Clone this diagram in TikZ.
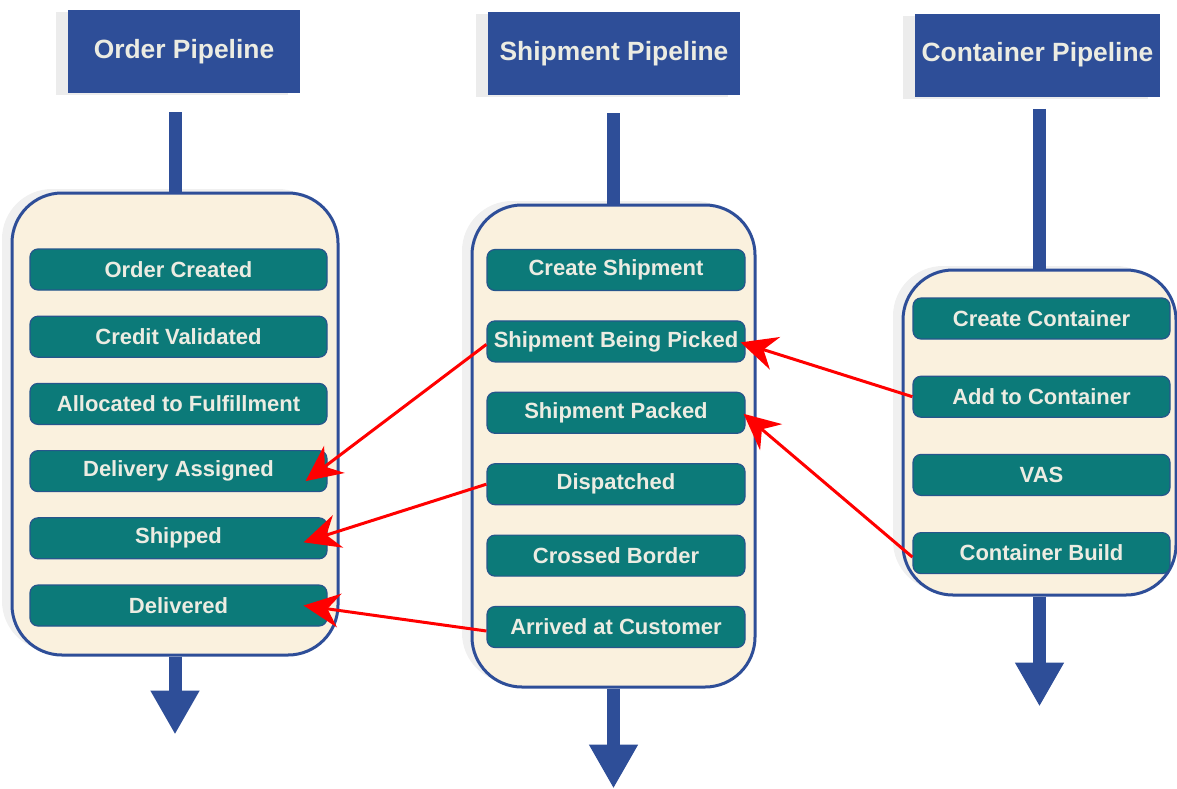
\documentclass[tikz,border=0pt]{standalone}
\usepackage{fontspec}
\setmainfont{Liberation Sans}
\usetikzlibrary{positioning,arrows.meta,shadows}

\definecolor{pipeblue}{RGB}{46,78,152}
\definecolor{stageteal}{RGB}{12,122,121}
\definecolor{stageedge}{RGB}{38,86,140}
\definecolor{parchment}{RGB}{250,241,222}
\definecolor{labelgray}{RGB}{236,236,226}

\tikzset{
  pipetitle/.style={fill=pipeblue, text=labelgray, inner sep=0pt, minimum height=41.5pt,
    font=\bfseries\fontsize{13.2}{15}\selectfont,
    drop shadow={shadow xshift=-6pt, shadow yshift=-1pt, opacity=0.15}},
  lane/.style={draw=pipeblue, line width=1.5pt, fill=parchment, rounded corners=25pt, inner sep=0pt,
    drop shadow={shadow xshift=-5pt, shadow yshift=2pt, opacity=0.12}},
  stage/.style={draw=stageedge, line width=0.6pt, fill=stageteal, text=labelgray,
    rounded corners=4pt, inner sep=0pt, minimum height=20.5pt,
    font=\bfseries\fontsize{11}{13}\selectfont},
  ostage/.style={stage, minimum width=148.5pt},
  sstage/.style={stage, minimum width=129pt},
  cstage/.style={stage, minimum width=128.5pt},
  stem/.style={draw=pipeblue, line width=6.5pt},
  flow/.style={stem, -{Triangle[width=23pt,length=22pt]}},
  handoff/.style={draw=red, line width=1.5pt, -{Stealth[length=18pt,width=17pt,inset=6pt]}}
}

\begin{document}
\begin{tikzpicture}[x=0.5pt, y=-0.5pt]
    \useasboundingbox (0,0) rectangle (1177,788);

    % pipeline headers
    \node[pipetitle, minimum width=116pt] (otitle) at (184,51.5) {Order Pipeline};
    \node[pipetitle, minimum width=126pt] (stitle) at (614,53.5) {Shipment Pipeline};
    \node[pipetitle, minimum width=122.5pt] (ctitle) at (1037.5,55) {Container Pipeline};

    % lanes
    \node[lane, minimum width=163pt, minimum height=231pt] (olane) at (175,424) {};
    \node[lane, minimum width=141.5pt, minimum height=241pt] (slane) at (613.5,446) {};
    \node[lane, minimum width=136.5pt, minimum height=162.5pt] (clane) at (1039.5,432.5) {};

    % order stages
    \node[ostage] (oc) at (178.5,269.5) {Order Created};
    \node[ostage, below=12.5pt of oc] (ov) {Credit Validated};
    \node[ostage, below=12.5pt of ov] (oa) {Allocated to Fulfillment};
    \node[ostage, below=12.5pt of oa] (od) {Delivery Assigned};
    \node[ostage, below=12.5pt of od] (os) {Shipped};
    \node[ostage, below=12.5pt of os] (odl) {Delivered};

    % shipment stages
    \node[sstage] (sc) at (616,270) {Create Shipment};
    \node[sstage, below=14.6pt of sc] (sp) {Shipment Being Picked};
    \node[sstage, below=14.6pt of sp] (sk) {Shipment Packed};
    \node[sstage, below=14.6pt of sk] (sd) {Dispatched};
    \node[sstage, below=14.6pt of sd] (sb) {Crossed Border};
    \node[sstage, below=14.6pt of sb] (sa) {Arrived at Customer};

    % container stages
    \node[cstage] (cc) at (1041.5,318.5) {Create Container};
    \node[cstage, below=18pt of cc] (ca) {Add to Container};
    \node[cstage, below=18pt of ca] (cv) {VAS};
    \node[cstage, below=18pt of cv] (cb) {Container Build};

    % stems and outflow
    \coordinate[below=39pt of olane.south] (oend);
    \coordinate[below=50pt of slane.south] (send);
    \coordinate[below=55pt of clane.south] (cend);

    \draw[stem, shorten <=9.5pt] (otitle.south -| olane.north) -- (olane.north);
    \draw[stem, shorten <=9pt] (stitle.south -| slane.north) -- (slane.north);
    \draw[stem, shorten <=6pt] (ctitle.south -| clane.north) -- (clane.north);

    \draw[flow] (olane.south) -- (oend);
    \draw[flow] (slane.south) -- (send);
    \draw[flow] (clane.south) -- (cend);

    % hand-offs between pipelines
    \draw[handoff] ([shift={(0,3)}]sp.west) -- ([shift={(-22,10)}]od.east);
    \draw[handoff] (sd.west) -- ([shift={(-24,4)}]os.east);
    \draw[handoff] ([shift={(0,4)}]sa.west) -- ([shift={(-24,0)}]odl.east);
    \draw[handoff] (ca.west) -- ([shift={(-5,1)}]sp.east);
    \draw[handoff] ([shift={(0,4)}]cb.west) -- ([shift={(-2,1)}]sk.east);

\end{tikzpicture}
\end{document}
